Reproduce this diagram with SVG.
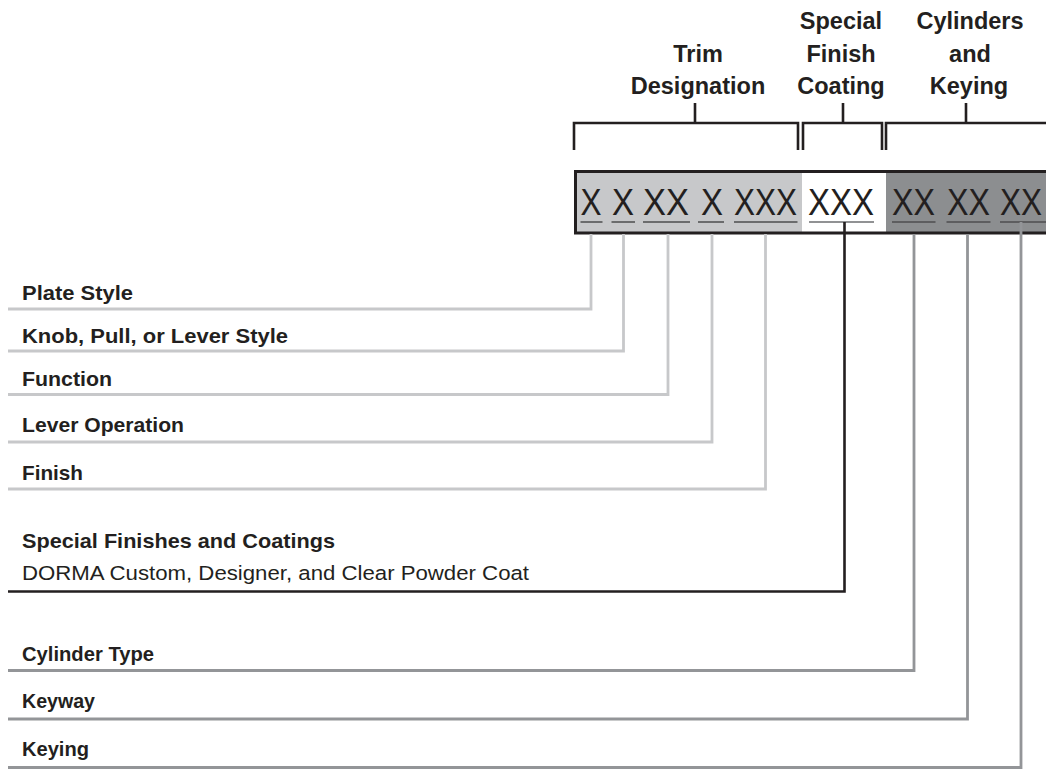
<svg xmlns="http://www.w3.org/2000/svg" width="1046" height="770" viewBox="0 0 1046 770">
<style>
.hdr{font-family:"Liberation Sans",Arial,sans-serif;font-weight:bold;font-size:23.5px;fill:#231f20;text-anchor:middle}
.lbl{font-family:"Liberation Sans",Arial,sans-serif;font-weight:bold;font-size:21px;fill:#231f20}
.sub{font-family:"Liberation Sans",Arial,sans-serif;font-size:20.5px;fill:#231f20}
.code{font-family:"Liberation Sans",Arial,sans-serif;font-size:37.5px;fill:#231f20}
.br{fill:none;stroke:#231f20;stroke-width:2.6}
.ul{stroke:#4d4d4f;stroke-width:1.6}
.c-lt{fill:none;stroke:#c7c8ca;stroke-width:2.8}
.c-bk{fill:none;stroke:#231f20;stroke-width:2.6}
.c-dk{fill:none;stroke:#939598;stroke-width:2.8}
</style>
<rect width="1046" height="770" fill="#ffffff"/>

<g id="header-trim">
<text class="hdr" x="698" y="62">Trim</text>
<text class="hdr" x="698" y="94">Designation</text>
<path class="br" d="M574,150 V123 H798 V150 M695,103 V123"/>
</g>
<g id="header-special">
<text class="hdr" x="841" y="29">Special</text>
<text class="hdr" x="841" y="62">Finish</text>
<text class="hdr" x="841" y="94">Coating</text>
<path class="br" d="M803,150 V123 H882 V150 M843,103 V123"/>
</g>
<g id="header-cylinders">
<text class="hdr" x="970" y="29">Cylinders</text>
<text class="hdr" x="970" y="62">and</text>
<text class="hdr" x="969" y="94">Keying</text>
<path class="br" d="M886,150 V123 H1048 M966,103 V123"/>
</g>

<g id="code-box">
<rect x="575" y="171" width="227" height="62" fill="#c7c8ca"/>
<rect x="802" y="171" width="84" height="62" fill="#ffffff"/>
<rect x="886" y="171" width="162" height="62" fill="#8c8e90"/>
<path d="M1048,171.5 H575.5 V233 H1048" fill="none" stroke="#231f20" stroke-width="3"/>
<text class="code" x="580.5" y="215" textLength="21" lengthAdjust="spacingAndGlyphs">X</text>
<text class="code" x="612" y="215" textLength="22" lengthAdjust="spacingAndGlyphs">X</text>
<text class="code" x="643" y="215" textLength="46" lengthAdjust="spacingAndGlyphs">XX</text>
<text class="code" x="701" y="215" textLength="22" lengthAdjust="spacingAndGlyphs">X</text>
<text class="code" x="734" y="215" textLength="63" lengthAdjust="spacingAndGlyphs">XXX</text>
<text class="code" x="808" y="215" textLength="66" lengthAdjust="spacingAndGlyphs">XXX</text>
<text class="code" x="892" y="215" textLength="43" lengthAdjust="spacingAndGlyphs">XX</text>
<text class="code" x="947" y="215" textLength="43" lengthAdjust="spacingAndGlyphs">XX</text>
<text class="code" x="1000" y="215" textLength="42" lengthAdjust="spacingAndGlyphs">XX</text>
<path class="ul" d="M580.5,222 H602.5 M611.5,222 H635 M643,222 H690 M698,222 H724 M734,222 H797.5 M892,222 H935.5 M946.5,222 H990.5 M1000,222 H1046"/>
<path d="M809,222 H874" stroke="#6d6e70" stroke-width="1.6"/>
</g>

<g id="connectors">
<path class="c-lt" d="M591,234 V309 H8"/>
<path class="c-lt" d="M623.5,234 V351 H8"/>
<path class="c-lt" d="M668,234 V394.5 H8"/>
<path class="c-lt" d="M712,234 V442 H8"/>
<path class="c-lt" d="M765.5,234 V489 H8"/>
<path class="c-bk" d="M844.5,222 V591.5 H8"/>
<path class="c-dk" d="M914,234 V670.5 H8"/>
<path class="c-dk" d="M967.5,234 V719 H8"/>
<path class="c-dk" d="M1021,222 V767.5 H8"/>
</g>

<g id="label-plate-style"><text class="lbl" x="22" y="300" textLength="111" lengthAdjust="spacingAndGlyphs">Plate Style</text></g>
<g id="label-knob"><text class="lbl" x="22" y="343" textLength="266" lengthAdjust="spacingAndGlyphs">Knob, Pull, or Lever Style</text></g>
<g id="label-function"><text class="lbl" x="22" y="386" textLength="90" lengthAdjust="spacingAndGlyphs">Function</text></g>
<g id="label-lever-operation"><text class="lbl" x="22" y="432" textLength="162" lengthAdjust="spacingAndGlyphs">Lever Operation</text></g>
<g id="label-finish"><text class="lbl" x="22" y="480" textLength="61" lengthAdjust="spacingAndGlyphs">Finish</text></g>
<g id="label-special-finishes">
<text class="lbl" x="22" y="548" textLength="313" lengthAdjust="spacingAndGlyphs">Special Finishes and Coatings</text>
<text class="sub" x="22" y="580" textLength="507" lengthAdjust="spacingAndGlyphs">DORMA Custom, Designer, and Clear Powder Coat</text>
</g>
<g id="label-cylinder-type"><text class="lbl" x="22" y="661" textLength="132" lengthAdjust="spacingAndGlyphs">Cylinder Type</text></g>
<g id="label-keyway"><text class="lbl" x="22" y="708" textLength="73" lengthAdjust="spacingAndGlyphs">Keyway</text></g>
<g id="label-keying"><text class="lbl" x="22" y="756" textLength="67" lengthAdjust="spacingAndGlyphs">Keying</text></g>
</svg>
